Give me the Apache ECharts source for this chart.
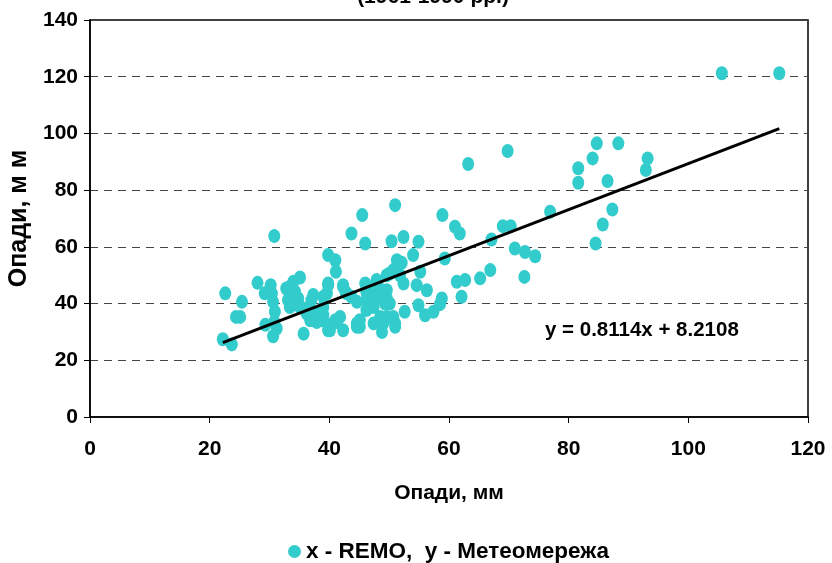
<!DOCTYPE html>
<html>
<head>
<meta charset="utf-8">
<script src="https://cdn.jsdelivr.net/npm/echarts@6/dist/echarts.min.js"></script>
<style>
  html, body { margin: 0; padding: 0; background: #fff; }
  #chart { width: 832px; height: 563px; }
</style>
</head>
<body>
<div id="chart"></div>
<script>
// Monthly precipitation, mm: REMO model (x) vs. station network (y)
const remoX = [
  22.2, 23.7, 22.6, 25.4, 24.4, 25.1,
  28.0, 29.2, 30.2, 30.4, 30.6, 30.9, 30.8, 29.3, 31.2, 30.6,
  30.8,
  32.8, 33.4, 34.3, 35.1, 34.0,
  34.0, 34.8, 33.4, 33.1, 35.1, 36.2, 36.8,
  35.7, 37.3, 37.0, 39.8, 39.6, 38.2, 37.9, 39.0, 40.1, 41.2, 41.8, 42.3, 42.9, 42.3,
  44.6, 45.1, 46.2, 46.2, 47.9, 47.4,
  39.8, 41.0, 41.1, 45.5, 43.7, 46.0, 51.0, 50.4,
  39.8, 39.0, 42.3, 42.7, 35.7, 37.0, 36.8, 39.0, 38.7, 40.1, 39.8, 41.0,
  43.7, 44.6, 45.1, 44.6, 46.0, 46.2, 46.8, 47.9, 48.2, 48.5, 46.2, 47.4, 48.5, 49.0, 47.4, 48.8,
  50.1, 50.7, 51.3, 49.6, 50.1, 49.6, 50.7, 51.0, 49.6, 49.3,
  52.4, 54.9, 54.0, 52.1, 49.6,
  51.8, 52.4, 55.2, 54.6, 56.3, 54.9, 52.6, 51.0, 56.0, 57.4, 58.8, 58.5,
  59.3, 61.3, 62.7, 62.1, 65.2, 66.9, 61.8, 61.0, 58.9, 63.2, 69.8,
  76.9, 69.0, 70.3, 67.1, 71.0, 72.7, 74.4, 72.6,
  81.6, 81.6, 84.0, 84.7, 88.3, 86.5, 93.2, 92.9, 87.3, 85.7, 84.5,
  105.6, 115.2
];
const meteoY = [
  27.4, 25.6, 43.6, 40.6, 35.3, 35.3,
  47.3, 43.6, 46.5, 43.6, 40.6, 37.1, 33.5, 32.5, 31.2, 28.5,
  63.8,
  45.3, 45.9, 44.1, 49.2, 47.7,
  41.8, 41.8, 38.8, 41.2, 38.8, 36.5, 34.1,
  29.4, 43.0, 41.2, 46.5, 43.6, 36.5, 33.5, 38.8, 30.6, 33.5, 35.3, 45.9, 43.6, 30.6,
  33.0, 31.8, 41.2, 44.7, 44.7, 40.0,
  57.1, 55.3, 51.2, 71.2, 64.7, 61.2, 74.7, 62.0,
  47.1, 42.4, 46.5, 44.1, 38.3, 35.3, 37.7, 35.9, 34.1, 32.4, 30.6, 34.1,
  42.4, 40.6, 34.1, 31.8, 47.1, 44.1, 41.8, 48.3, 45.9, 43.0, 37.7, 38.8, 35.3, 33.0, 33.0, 30.0,
  50.6, 51.8, 55.3, 41.8, 40.0, 35.3, 35.3, 31.8, 44.7, 40.0,
  63.5, 61.8, 57.1, 54.4, 50.0,
  50.0, 47.1, 51.2, 46.5, 44.7, 39.4, 37.1, 33.0, 35.9, 37.1, 41.8, 39.8,
  55.9, 47.7, 48.3, 42.4, 48.9, 51.8, 64.7, 67.1, 71.2, 89.2, 93.8,
  72.4, 67.3, 67.3, 62.6, 59.4, 58.2, 56.7, 49.4,
  87.7, 82.6, 91.2, 96.5, 96.5, 83.2, 91.2, 87.1, 73.2, 67.9, 61.2,
  121.2, 121.2
];

// Linear fit shown on the chart
const slope = 0.8114;
const intercept = 8.2108;
const equationText = 'y = 0.8114x + 8.2108';

const xTicks = [0, 20, 40, 60, 80, 100, 120];
const yTicks = [0, 20, 40, 60, 80, 100, 120, 140];

const seriesName = 'x - REMO,  y - Метеомережа';
const axisTitle = 'Опади, мм';
const yAxisTitle = 'Опади, м м';
const titleText = '(1961-1990 рр.)';

const FONT = "'Liberation Sans', Arial, sans-serif";
const TEAL = '#33CCCC';

const points = remoX.map((x, i) => [x, meteoY[i]]);
const xMin = Math.min(...remoX);
const xMax = Math.max(...remoX);
const trend = [[xMin, slope * xMin + intercept], [xMax, slope * xMax + intercept]];

const chart = echarts.init(document.getElementById('chart'), null, { renderer: 'canvas' });

chart.setOption({
  animation: false,
  backgroundColor: '#ffffff',
  title: {
    text: titleText,
    left: 428,
    top: -18,
    textAlign: 'center',
    textStyle: { fontFamily: FONT, fontWeight: 'bold', fontSize: 21, color: '#000' }
  },
  grid: {
    left: 90, right: 24, top: 20, bottom: 146,
    containLabel: false,
    outerBoundsMode: 'none',
    show: true,
    borderColor: '#000',
    borderWidth: 1.5,
    backgroundColor: 'transparent'
  },
  legend: {
    left: 283,
    top: 535,
    itemWidth: 13,
    itemHeight: 13,
    itemGap: 10,
    icon: 'circle',
    data: [seriesName],
    textStyle: { fontFamily: FONT, fontWeight: 'bold', fontSize: 22.5, color: '#000' }
  },
  xAxis: {
    type: 'value',
    min: xTicks[0],
    max: xTicks[xTicks.length - 1],
    interval: xTicks[1] - xTicks[0],
    name: axisTitle,
    nameLocation: 'middle',
    nameGap: 66,
    nameTextStyle: { fontFamily: FONT, fontWeight: 'bold', fontSize: 21, color: '#000' },
    axisLine: { show: true, onZero: false, lineStyle: { color: '#000', width: 1.5 } },
    axisTick: { show: true, inside: false, length: 6, lineStyle: { color: '#000', width: 1 } },
    axisLabel: { margin: 22, fontFamily: FONT, fontWeight: 'bold', fontSize: 21, color: '#000' },
    splitLine: { show: false }
  },
  yAxis: {
    type: 'value',
    min: yTicks[0],
    max: yTicks[yTicks.length - 1],
    interval: yTicks[1] - yTicks[0],
    name: yAxisTitle,
    nameLocation: 'middle',
    nameRotate: 90,
    nameGap: 57,
    nameTextStyle: { fontFamily: FONT, fontWeight: 'bold', fontSize: 25, color: '#000' },
    axisLine: { show: true, onZero: false, lineStyle: { color: '#000', width: 1.5 } },
    axisTick: { show: true, inside: false, length: 6, lineStyle: { color: '#000', width: 1 } },
    axisLabel: { margin: 12, fontFamily: FONT, fontWeight: 'bold', fontSize: 21, color: '#000' },
    splitLine: {
      show: true,
      lineStyle: { color: '#444', width: 1.2, type: [8, 6] }
    }
  },
  series: [
    {
      name: seriesName,
      type: 'scatter',
      data: points,
      symbol: 'circle',
      symbolSize: [12, 14],
      itemStyle: { color: TEAL, opacity: 1 },
      z: 2
    },
    {
      name: 'trend',
      type: 'line',
      data: trend,
      symbol: 'none',
      lineStyle: { color: '#000', width: 3 },
      z: 3,
      silent: true
    }
  ],
  graphic: [
    {
      type: 'text',
      left: 545,
      top: 320,
      z: 10,
      style: {
        text: equationText,
        fontFamily: FONT,
        fontWeight: 'bold',
        fontSize: 20.5,
        fill: '#000'
      }
    }
  ]
});
</script>
</body>
</html>
